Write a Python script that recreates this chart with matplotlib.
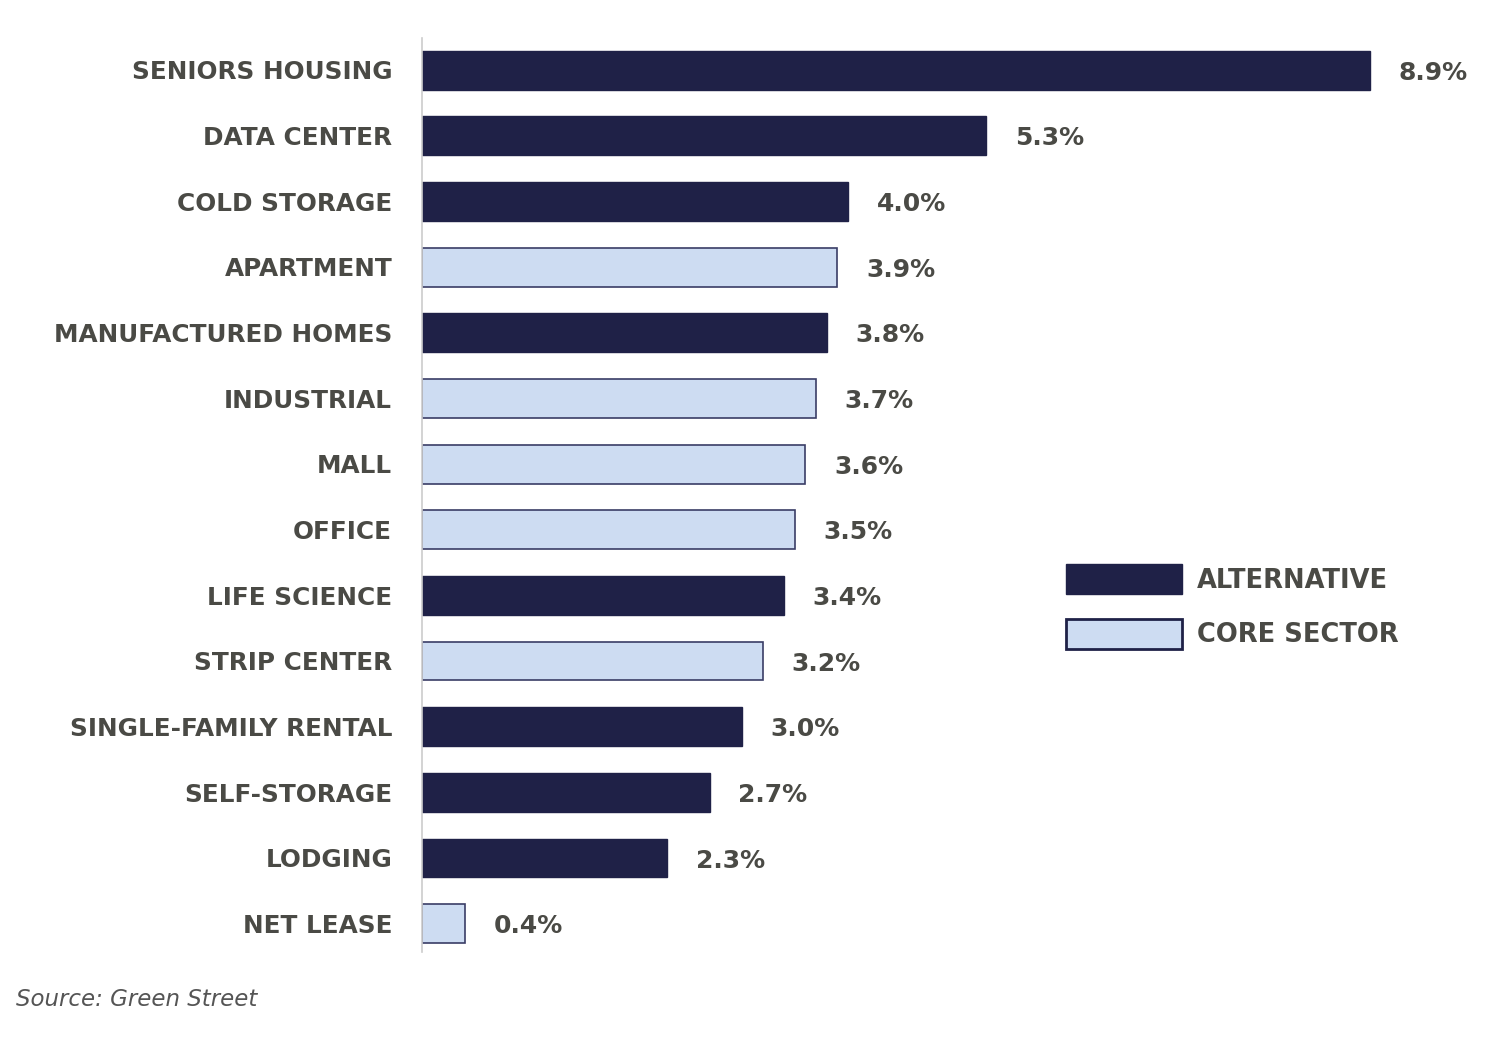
import matplotlib
matplotlib.use("Agg")
import matplotlib.pyplot as plt
from matplotlib.patches import Patch
from matplotlib.transforms import offset_copy

categories = ["SENIORS HOUSING", "DATA CENTER", "COLD STORAGE", "APARTMENT",
              "MANUFACTURED HOMES", "INDUSTRIAL", "MALL", "OFFICE", "LIFE SCIENCE",
              "STRIP CENTER", "SINGLE-FAMILY RENTAL", "SELF-STORAGE", "LODGING", "NET LEASE"]
values = [8.9, 5.3, 4.0, 3.9, 3.8, 3.7, 3.6, 3.5, 3.4, 3.2, 3.0, 2.7, 2.3, 0.4]
groups = ["ALTERNATIVE", "ALTERNATIVE", "ALTERNATIVE", "CORE SECTOR",
          "ALTERNATIVE", "CORE SECTOR", "CORE SECTOR", "CORE SECTOR", "ALTERNATIVE",
          "CORE SECTOR", "ALTERNATIVE", "ALTERNATIVE", "ALTERNATIVE", "CORE SECTOR"]
source = "Source: Green Street"

DARK = "#1f2147"
LIGHT = "#cddcf2"
TEXT = "#4a4a45"
FONT = "DejaVu Sans"

W, H = 1494, 1042
fig = plt.figure(figsize=(W / 100, H / 100), dpi=100)
ax = fig.add_axes([422 / W, 1 - 952 / H, 1065 / W, (952 - 38) / H])

y = list(range(len(categories)))
for yi, v, g in zip(y, values, groups):
    if g == "ALTERNATIVE":
        ax.barh(yi, v, height=0.59, color=DARK, edgecolor=DARK, linewidth=1.0)
    else:
        ax.barh(yi, v, height=0.59, color=LIGHT, edgecolor="#3a3d66", linewidth=1.2)
    ax.text(v + 0.27, yi + 0.04, f"{v:.1f}%", va="center", ha="left",
            fontsize=18, fontweight="bold", color=TEXT, family=FONT)

ax.set_xlim(0, 10)
ax.set_ylim(13.43, -0.49)
ax.set_yticks(y)
ax.set_yticklabels(categories, fontsize=17.8, fontweight="bold", color=TEXT, family=FONT,
                   va="center")
ax.tick_params(axis="y", length=0, pad=21.5)
for lbl in ax.get_yticklabels():
    lbl.set_transform(offset_copy(lbl.get_transform(), fig=fig, x=0, y=-1.5, units="points"))
ax.set_xticks([])
for s in ["top", "right", "bottom"]:
    ax.spines[s].set_visible(False)
ax.spines["left"].set_color("#cccccc")
ax.spines["left"].set_linewidth(1.2)

handles = [Patch(facecolor=DARK, edgecolor=DARK, label="ALTERNATIVE"),
           Patch(facecolor=LIGHT, edgecolor=DARK, linewidth=2, label="CORE SECTOR")]
leg = fig.legend(handles=handles, loc="upper left", bbox_to_anchor=(1043 / W, 1 - 541 / H),
                 frameon=False, handlelength=4.5, handleheight=1.42, handletextpad=0.6,
                 labelspacing=0.96, prop={"family": FONT, "weight": "bold", "size": 18.5})
for t in leg.get_texts():
    t.set_color(TEXT)

fig.text(16 / W, 1 - 1000 / H, source, fontsize=16.5, style="italic", color="#555555",
         va="center", ha="left", family=FONT)

fig.savefig("out.png", dpi=100)
